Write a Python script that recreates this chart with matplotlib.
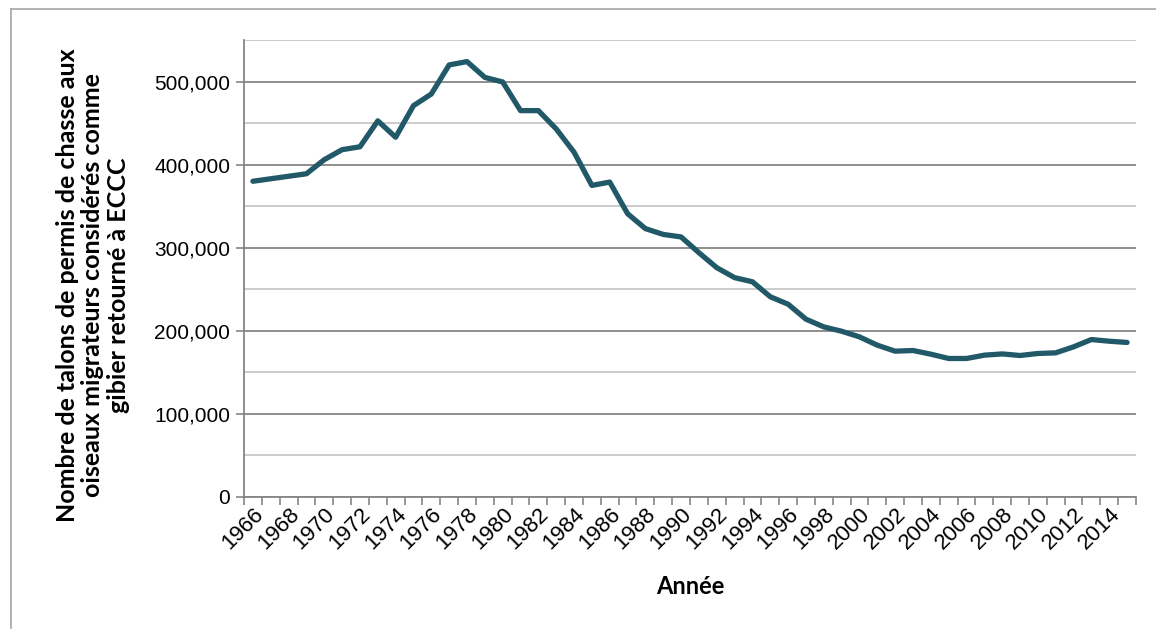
import numpy as np
import matplotlib
matplotlib.use('Agg')
import matplotlib.pyplot as plt
from matplotlib.ticker import FuncFormatter, MultipleLocator, FixedLocator
from matplotlib.lines import Line2D

plt.rcParams['font.family'] = ['Liberation Sans', 'DejaVu Sans']

years = list(range(1966, 2016))
talons = [380000, 383000, 386000, 389000, 406000, 418000, 421500, 452700, 433000, 471000,
          485000, 520000, 524000, 505000, 499500, 465000, 465000, 443000, 415000, 375000,
          379000, 341000, 323000, 316000, 313000, 294000, 276000, 264000, 259000, 241000,
          232000, 214000, 204700, 199500, 192700, 182700, 175500, 176300, 171900, 166700,
          166700, 170700, 172200, 170300, 172700, 173500, 180700, 189500, 187500, 186000]
year_labels = [str(y) if (y - 1966) % 2 == 0 else '' for y in years]

line_color = '#215968'
major_grid = '#868686'
minor_grid = '#c8c8c8'

fig = plt.figure(figsize=(11.56, 6.29), dpi=100)
ax = fig.add_axes([244/1156, 1 - 497/629, (1136-244)/1156, (497-40)/629])

x = np.arange(len(years))
ax.plot(x, talons, color=line_color, linewidth=3.8, solid_capstyle='round', solid_joinstyle='round', zorder=3)

ax.set_xlim(-0.5, len(years) - 0.5)
ax.set_ylim(0, 550000)

ax.yaxis.set_major_locator(MultipleLocator(100000))
ax.yaxis.set_minor_locator(MultipleLocator(50000))
ax.yaxis.set_major_formatter(FuncFormatter(lambda v, p: '{:,.0f}'.format(v)))
ax.grid(which='major', axis='y', color=major_grid, linewidth=1.3, zorder=1)
ax.grid(which='minor', axis='y', color=minor_grid, linewidth=1.3, zorder=1)

# axe par catégories : graduations entre les années, étiquettes au centre
ax.xaxis.set_major_locator(FixedLocator(x))
ax.set_xticklabels(year_labels, rotation=45, ha='right', va='top', rotation_mode='anchor', fontsize=16)
ax.xaxis.set_minor_locator(FixedLocator(np.arange(len(years) + 1) - 0.5))
ax.tick_params(axis='x', which='major', length=0, pad=5)
ax.tick_params(axis='x', which='minor', length=6, color=major_grid, width=1.2)
ax.tick_params(axis='y', which='major', length=6, color=major_grid, width=1.2, labelsize=15, pad=4)
ax.tick_params(axis='y', which='minor', length=0)

for side in ['top', 'right']:
    ax.spines[side].set_visible(False)
for side in ['left', 'bottom']:
    ax.spines[side].set_color(major_grid)
    ax.spines[side].set_linewidth(1.3)

fig.text(93/1156, 1 - 285/629,
         'Nombre de talons de permis de chasse aux\noiseaux migrateurs considérés comme\ngibier retourné à ECCC',
         fontsize=18, fontweight='bold', family='Lato', linespacing=1.15,
         rotation=90, ha='center', va='center', multialignment='center')
fig.text(690/1156, 1 - 587/629, 'Année', fontsize=17, fontweight='bold', family='Lato',
         ha='center', va='center')

# cadre extérieur
fig.add_artist(Line2D([11/1156, 11/1156], [0, 1 - 9/629], color='#a6a6a6', linewidth=1.2))
fig.add_artist(Line2D([11/1156, 1], [1 - 9/629, 1 - 9/629], color='#a6a6a6', linewidth=1.2))

fig.savefig('out.png', dpi=100)
